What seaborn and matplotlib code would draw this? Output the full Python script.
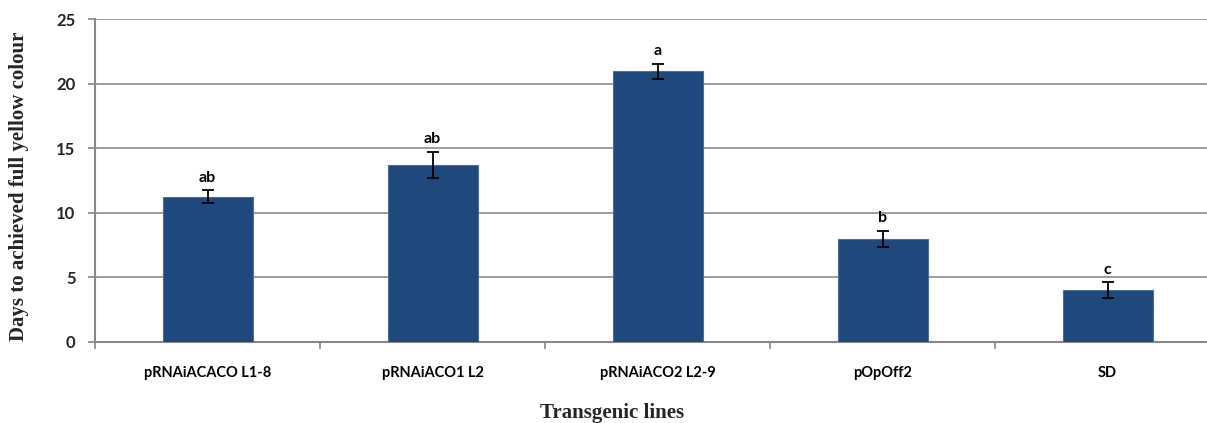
import matplotlib
matplotlib.use("Agg")
import matplotlib.pyplot as plt
import seaborn as sns
import pandas as pd
import numpy as np

# Days to full yellow colour per transgenic line
lines = ["pRNAiACACO L1-8", "pRNAiACO1 L2", "pRNAiACO2 L2-9", "pOpOff2", "SD"]
days = [11.25, 13.7, 20.95, 7.97, 4.0]
sem = [0.5, 1.03, 0.6, 0.62, 0.63]
groups = ["ab", "ab", "a", "b", "c"]

df = pd.DataFrame({"line": lines, "days": days})

sns.set_theme(style="white")
plt.rcParams["font.family"] = ["Lato", "DejaVu Sans"]

fig = plt.figure(figsize=(12.07, 4.23), dpi=100)
ax = fig.add_axes([95 / 1207, 1 - 342 / 423, 1125 / 1207, 323 / 423])

bar_color = "#1f497d"
sns.barplot(data=df, x="line", y="days", color=bar_color, width=0.4,
            edgecolor="#4a6f9c", linewidth=0.8, saturation=1, ax=ax, zorder=3)

x = np.arange(len(lines))
ax.errorbar(x, days, yerr=sem, fmt="none", ecolor="black", elinewidth=1.3,
            capsize=4.5, capthick=1.3, zorder=4)

for xi, d, s, g in zip(x, days, sem, groups):
    ax.annotate(g, (xi, d + s), xytext=(0, 4), textcoords="offset points",
                ha="center", va="bottom", fontsize=11.5, fontweight="bold",
                color="black")

ax.set_xlim(-0.5, len(lines) - 0.5)
ax.set_ylim(0, 25)
ax.set_yticks([0, 5, 10, 15, 20, 25])
ax.yaxis.grid(True, color="#8c8c8c", linewidth=1.2)
ax.set_axisbelow(True)

for side in ["top", "right"]:
    ax.spines[side].set_visible(False)
for side in ["left", "bottom"]:
    ax.spines[side].set_color("#888888")
    ax.spines[side].set_linewidth(1.5)

# category labels at bar centres, tick marks on the category boundaries
ax.set_xticks(x)
ax.set_xticklabels(lines, fontsize=10.5, fontweight="bold", color="black")
ax.set_xticks(np.arange(-0.5, len(lines), 1.0), minor=True)
ax.tick_params(axis="x", which="major", length=0, pad=17)
ax.tick_params(axis="x", which="minor", length=5, width=1.2, color="#888888",
               direction="out", bottom=True)
ax.tick_params(axis="y", which="major", length=5, width=1.2, color="#888888",
               direction="out", left=True, labelsize=12, pad=9)
for lbl in ax.get_yticklabels():
    lbl.set_fontweight("bold")

ax.set_xlabel("")
ax.set_ylabel("")

fig.text(19 / 1207, 1 - 186 / 423, "Days to achieved full yellow colour",
         rotation=90, ha="center", va="center", fontsize=15, fontweight="bold",
         family="Liberation Serif")
fig.text(612 / 1207, 1 - 413 / 423, "Transgenic lines", ha="center",
         va="center", fontsize=15, fontweight="bold", family="Liberation Serif")

fig.savefig("out.png", dpi=100)
